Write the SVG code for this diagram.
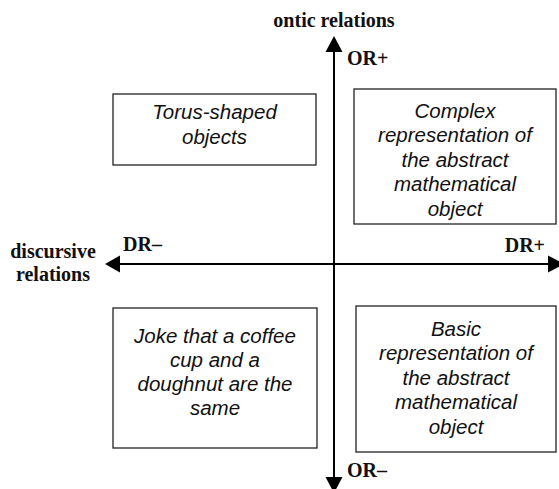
<svg xmlns="http://www.w3.org/2000/svg" width="559" height="489" viewBox="0 0 559 489">
  <style>
    .box { fill: #ffffff; stroke: #222222; stroke-width: 1.3; }
    .cell { font-family: "Liberation Sans", Arial, sans-serif; font-style: italic; font-size: 20.5px; fill: #111111; text-anchor: middle; }
    .axislabel { font-family: "Liberation Serif", "Times New Roman", serif; font-weight: bold; font-size: 20px; fill: #111111; }
    .axis { stroke: #000000; stroke-width: 2; fill: none; }
    .head { fill: #000000; }
  </style>
  <rect width="559" height="489" fill="#ffffff"/>

  <!-- Axes -->
  <g id="connectors">
    <line class="axis" x1="334" y1="50" x2="334" y2="479"/>
    <line class="axis" x1="118" y1="264" x2="550" y2="264"/>
    <polygon class="head" points="334,36 325.5,52 342.5,52"/>
    <polygon class="head" points="334,493 325.5,477 342.5,477"/>
    <polygon class="head" points="105,264 120,255.5 120,272.5"/>
    <polygon class="head" points="564,264 548,255.5 548,272.5"/>
  </g>

  <!-- Axis labels -->
  <g id="axis-labels">
    <text class="axislabel" x="334" y="26.5" text-anchor="middle">ontic relations</text>
    <text class="axislabel" x="347" y="65">OR+</text>
    <text class="axislabel" x="347" y="477">OR–</text>
    <text class="axislabel" x="53" y="257.5" text-anchor="middle">discursive</text>
    <text class="axislabel" x="53" y="281" text-anchor="middle">relations</text>
    <text class="axislabel" x="123" y="251">DR–</text>
    <text class="axislabel" x="545" y="251.5" text-anchor="end">DR+</text>
  </g>

  <!-- Quadrant: top-left -->
  <g id="torus-objects">
    <rect class="box" x="113" y="94" width="203" height="71"/>
    <text class="cell" x="214.5" y="119">Torus-shaped</text>
    <text class="cell" x="214.5" y="144">objects</text>
  </g>

  <!-- Quadrant: top-right -->
  <g id="complex-representation">
    <rect class="box" x="354" y="89" width="202" height="135"/>
    <text class="cell" x="455" y="117.5">Complex</text>
    <text class="cell" x="455" y="142">representation of</text>
    <text class="cell" x="455" y="166.5">the abstract</text>
    <text class="cell" x="455" y="191">mathematical</text>
    <text class="cell" x="455" y="215.5">object</text>
  </g>

  <!-- Quadrant: bottom-left -->
  <g id="coffee-cup-joke">
    <rect class="box" x="113" y="308" width="204" height="140"/>
    <text class="cell" x="215" y="342.5">Joke that a coffee</text>
    <text class="cell" x="215" y="366.5">cup and a</text>
    <text class="cell" x="215" y="391">doughnut are the</text>
    <text class="cell" x="215" y="415">same</text>
  </g>

  <!-- Quadrant: bottom-right -->
  <g id="basic-representation">
    <rect class="box" x="356" y="306" width="200" height="146"/>
    <text class="cell" x="456" y="335.5">Basic</text>
    <text class="cell" x="456" y="360">representation of</text>
    <text class="cell" x="456" y="384.5">the abstract</text>
    <text class="cell" x="456" y="409">mathematical</text>
    <text class="cell" x="456" y="433.5">object</text>
  </g>
</svg>
